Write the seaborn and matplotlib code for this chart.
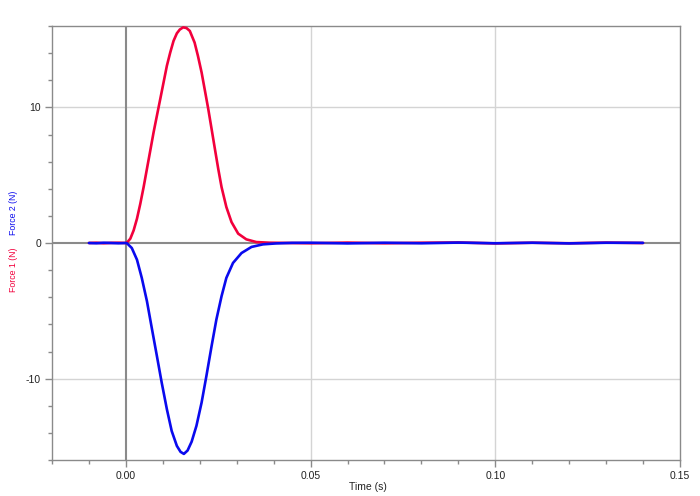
import numpy as np
import pandas as pd
import matplotlib
matplotlib.use('Agg')
import matplotlib.pyplot as plt
from matplotlib.ticker import MultipleLocator, FixedLocator, FixedFormatter
import seaborn as sns

# --- Data ---
time_s = [-0.010, -0.008, -0.006, -0.004, -0.002, 0.0000, 0.0003, 0.0012, 0.0021, 0.0030,
          0.0039, 0.0048, 0.0057, 0.0066, 0.0075, 0.0084, 0.0093, 0.0102, 0.0111, 0.0120,
          0.0129, 0.0138, 0.0146, 0.0155, 0.0164, 0.0173, 0.0186, 0.0195, 0.0205, 0.0214,
          0.0223, 0.0232, 0.0241, 0.0250, 0.0259, 0.0272, 0.0286, 0.0304, 0.0326, 0.0353,
          0.0389, 0.042, 0.050, 0.060, 0.070, 0.080, 0.090, 0.100, 0.110, 0.120,
          0.130, 0.140]
force_1 = [0.00, 0.02, -0.02, 0.01, 0.02, 0.00, 0.03, 0.32, 0.93, 1.79,
           2.89, 4.12, 5.47, 6.81, 8.16, 9.39, 10.61, 11.84, 13.07, 14.04,
           14.90, 15.46, 15.74, 15.90, 15.85, 15.64, 14.78, 13.80, 12.57, 11.23,
           9.88, 8.41, 6.93, 5.47, 4.12, 2.65, 1.54, 0.69, 0.27, 0.07,
           0.02, 0.01, -0.02, 0.03, -0.02, 0.02, 0.04, -0.03, 0.02, -0.02,
           0.03, 0.00]

time2_s = [-0.010, -0.008, -0.006, -0.004, -0.002, 0.0000, 0.0003, 0.0016, 0.0030, 0.0043,
           0.0057, 0.0070, 0.0084, 0.0097, 0.0111, 0.0124, 0.0138, 0.0148, 0.0157, 0.0167,
           0.0178, 0.0191, 0.0205, 0.0218, 0.0232, 0.0245, 0.0259, 0.0272, 0.0290, 0.0313,
           0.0340, 0.0371, 0.0407, 0.045, 0.050, 0.060, 0.070, 0.080, 0.090, 0.100,
           0.110, 0.120, 0.130, 0.140]
force_2 = [0.00, -0.02, 0.02, 0.00, -0.02, 0.00, -0.02, -0.37, -1.23, -2.57,
           -4.29, -6.25, -8.34, -10.30, -12.26, -13.86, -14.96, -15.40, -15.55, -15.30,
           -14.65, -13.48, -11.76, -9.80, -7.60, -5.64, -3.92, -2.57, -1.47, -0.74,
           -0.29, -0.10, -0.03, 0.01, 0.02, -0.03, 0.02, -0.02, 0.03, -0.02,
           0.02, -0.03, 0.02, 0.01]

x_major = [0.00, 0.05, 0.10, 0.15]
x_labels = ['0.00', '0.05', '0.10', '0.15']
y_major = [-10, 0, 10]
y_labels = ['-10', '0', '10']

RED = '#f2003c'
BLUE = '#0a0aee'
GRID = '#d4d4d4'
AXIS = '#8a8a8a'

sns.set_style('white')
plt.rcParams['font.family'] = ['Liberation Sans', 'DejaVu Sans']

df1 = pd.DataFrame({'t': time_s, 'f': force_1})
df2 = pd.DataFrame({'t': time2_s, 'f': force_2})

fig = plt.figure(figsize=(7, 4.96), dpi=100)
ax = fig.add_axes([52 / 700, 36 / 496, 628 / 700, 434 / 496])

# grid lines at major ticks, zero axes darker
for xv in [0.05, 0.10]:
    ax.axvline(xv, color=GRID, lw=1, zorder=0)
for yv in [-10, 10]:
    ax.axhline(yv, color=GRID, lw=1, zorder=0)
ax.axvline(0, color=AXIS, lw=1.5, zorder=1)
ax.axhline(0, color=AXIS, lw=1.5, zorder=1)

sns.lineplot(data=df1, x='t', y='f', ax=ax, color=RED, lw=1.9, estimator=None, sort=False, zorder=3)
sns.lineplot(data=df2, x='t', y='f', ax=ax, color=BLUE, lw=1.9, estimator=None, sort=False, zorder=4)

ax.set_xlim(-0.02, 0.15)
ax.set_ylim(-16, 16)

ax.xaxis.set_major_locator(FixedLocator(x_major))
ax.xaxis.set_major_formatter(FixedFormatter(x_labels))
ax.xaxis.set_minor_locator(MultipleLocator(0.01))
ax.yaxis.set_major_locator(FixedLocator(y_major))
ax.yaxis.set_major_formatter(FixedFormatter(y_labels))
ax.yaxis.set_minor_locator(MultipleLocator(2))

ax.tick_params(which='major', direction='out', length=5, width=1, color=AXIS,
               labelsize=7.5, labelcolor='#222222', pad=3, bottom=True, left=True)
ax.tick_params(which='minor', direction='out', length=3, width=1, color=AXIS,
               bottom=True, left=True)

for side in ['left', 'bottom', 'top', 'right']:
    ax.spines[side].set_color(AXIS)
    ax.spines[side].set_linewidth(1)

ax.set_xlabel('')
ax.set_ylabel('')
fig.text(368 / 700, 1 - 487 / 496, 'Time (s)', ha='center', va='center', fontsize=7.5, color='#222222')
fig.text(14 / 700, 1 - 270 / 496, 'Force 1 (N)', rotation=90, ha='center', va='center', fontsize=6.3, color=RED)
fig.text(14 / 700, 1 - 213 / 496, 'Force 2 (N)', rotation=90, ha='center', va='center', fontsize=6.3, color=BLUE)

fig.savefig('out.png', dpi=100)
